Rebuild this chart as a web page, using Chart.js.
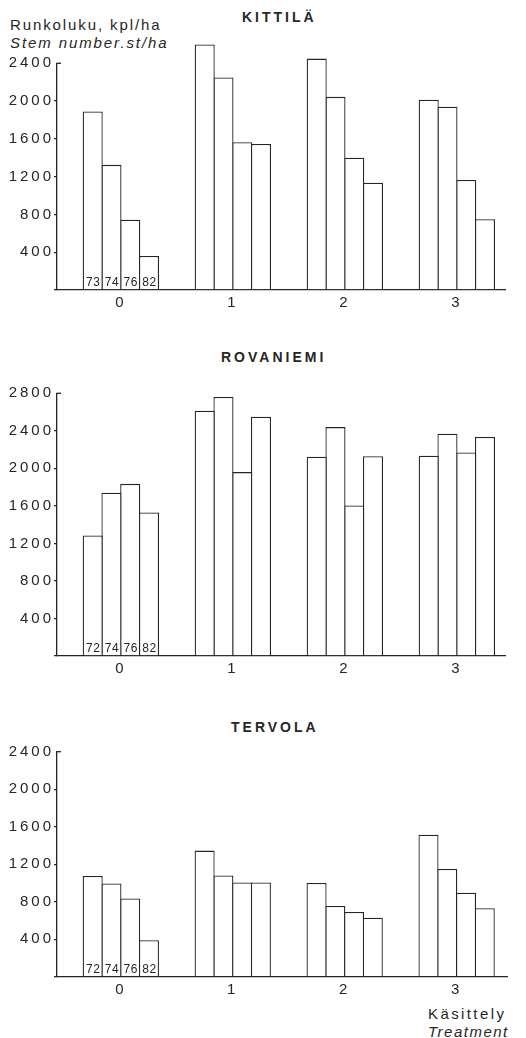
<!DOCTYPE html>
<html>
<head>
<meta charset="utf-8">
<script src="https://cdn.jsdelivr.net/npm/chart.js@4.4.1/dist/chart.umd.min.js"></script>
<style>
  body { margin: 0; background: #fff; width: 526px; height: 1038px; position: relative; overflow: hidden;
         font-family: "Liberation Sans", Arial, sans-serif; color: #262626; }
  canvas { position: absolute; left: 0; }
  .t { position: absolute; white-space: nowrap; line-height: 1; font-size: 15px; letter-spacing: 1.9px; }
  .h { font-weight: bold; font-size: 14px; letter-spacing: 3px; }
  .i { font-style: italic; }
</style>
</head>
<body>
<div class="t" style="left:10px;top:17px">Runkoluku, kpl/ha</div>
<div class="t i" style="left:10px;top:35px">Stem number.st/ha</div>
<div class="t h" style="left:242px;top:10px">KITTILÄ</div>
<div class="t h" style="left:221px;top:350px">ROVANIEMI</div>
<div class="t h" style="left:231px;top:720px">TERVOLA</div>
<div class="t" style="left:428px;top:1006px;letter-spacing:2.4px">Käsittely</div>
<div class="t i" style="left:428px;top:1024px;letter-spacing:1.5px">Treatment</div>

<canvas id="kittila" width="526" height="320" style="top:0px"></canvas>
<canvas id="rovaniemi" width="526" height="360" style="top:330px"></canvas>
<canvas id="tervola" width="526" height="300" style="top:700px"></canvas>

<script>
// --- DATA ---
const treatments = [0, 1, 2, 3];
const kittilaYears = ['73', '74', '76', '82'];
const otherYears = ['72', '74', '76', '82'];

// stem number, st/ha, one array per measuring year (treatments 0..3)
const kittila73 = [1890, 2600, 2450, 2015];
const kittila74 = [1325, 2250, 2045, 1940];
const kittila76 = [745, 1565, 1400, 1165];
const kittila82 = [360, 1545, 1135, 750];

const rovaniemi72 = [1285, 2615, 2125, 2135];
const rovaniemi74 = [1740, 2760, 2440, 2370];
const rovaniemi76 = [1835, 1960, 1605, 2170];
const rovaniemi82 = [1530, 2550, 2130, 2335];

const tervola72 = [1075, 1345, 1000, 1515];
const tervola74 = [995, 1080, 755, 1150];
const tervola76 = [835, 1005, 690, 895];
const tervola82 = [390, 1005, 630, 730];

const INK = '#262626';
const FONT = '"Liberation Sans", Arial, sans-serif';

// wide typeset tracking for the axis numbers
const tracking = {
    id: 'tracking',
    beforeDraw(chart) { chart.ctx.letterSpacing = '3px'; }
};

// top tick of the value axis points inwards
const topTick = {
    id: 'topTick',
    afterDraw(chart) {
        const y = chart.scales.y;
        const py = y.getPixelForValue(y.max);
        const ctx = chart.ctx;
        ctx.save();
        ctx.strokeStyle = INK;
        ctx.lineWidth = 1.3;
        ctx.beginPath();
        ctx.moveTo(y.right - 0.6, py);
        ctx.lineTo(y.right + 4, py);
        ctx.stroke();
        ctx.restore();
    }
};

// small year numbers at the foot of the treatment 0 bars
const yearLabels = {
    id: 'yearLabels',
    afterDatasetsDraw(chart) {
        const ctx = chart.ctx;
        ctx.save();
        ctx.letterSpacing = '0.5px';
        ctx.font = '12px ' + FONT;
        ctx.fillStyle = INK;
        ctx.textAlign = 'center';
        ctx.textBaseline = 'alphabetic';
        chart.data.datasets.forEach((ds, i) => {
            const bar = chart.getDatasetMeta(i).data[0];
            ctx.fillText(ds.label, bar.x + 0.5, bar.base - 3.3);
        });
        ctx.restore();
    }
};

function makePanel(id, years, series, yMax, pad, xMax) {
    const datasets = series.map((vals, i) => ({
        label: years[i],
        data: vals.map((v, j) => ({ x: treatments[j], y: v })),
        backgroundColor: '#fff',
        borderColor: INK,
        borderWidth: 1.3,
        categoryPercentage: 0.67,
        barPercentage: 1.07,   // neighbours share one edge line
        clip: false
    }));

    new Chart(document.getElementById(id), {
        type: 'bar',
        data: { datasets },
        plugins: [tracking, yearLabels, topTick],
        options: {
            responsive: false,
            animation: false,
            devicePixelRatio: 1,
            layout: { padding: pad },
            plugins: { legend: { display: false }, tooltip: { enabled: false } },
            scales: {
                x: {
                    type: 'linear', bounds: 'data', min: -0.57, max: xMax, offset: false, z: 1,
                    afterBuildTicks: s => { s.ticks = treatments.map(v => ({ value: v })); },
                    afterFit: s => { s.height = 20; },
                    border: { color: INK, width: 1.3 },
                    grid: { offset: false, drawOnChartArea: false, drawTicks: false },
                    ticks: { padding: 4, color: INK, font: { family: FONT, size: 15 }, callback: v => String(v) }
                },
                y: {
                    min: 0, max: yMax,
                    afterFit: s => { s.width = 57; },
                    border: { color: INK, width: 1.3 },
                    grid: { drawOnChartArea: false, drawTicks: true, tickLength: 3, lineWidth: 1.3,
                            color: c => (c.tick && c.tick.value === yMax) ? 'rgba(0,0,0,0)' : INK },
                    ticks: { stepSize: 400, padding: 0, color: INK, font: { family: FONT, size: 15 },
                             callback: v => v === 0 ? '' : v }
                }
            }
        }
    });
}

makePanel('kittila', kittilaYears, [kittila73, kittila74, kittila76, kittila82], 2400,
          { top: 63.3, right: 21, bottom: 10, left: 0 }, 3.43);
makePanel('rovaniemi', otherYears, [rovaniemi72, rovaniemi74, rovaniemi76, rovaniemi82], 2800,
          { top: 63.3, right: 21, bottom: 14, left: 0 }, 3.43);
makePanel('tervola', otherYears, [tervola72, tervola74, tervola76, tervola82], 2400,
          { top: 51.7, right: 19, bottom: 3.3, left: 0 }, 3.45);
</script>
</body>
</html>
